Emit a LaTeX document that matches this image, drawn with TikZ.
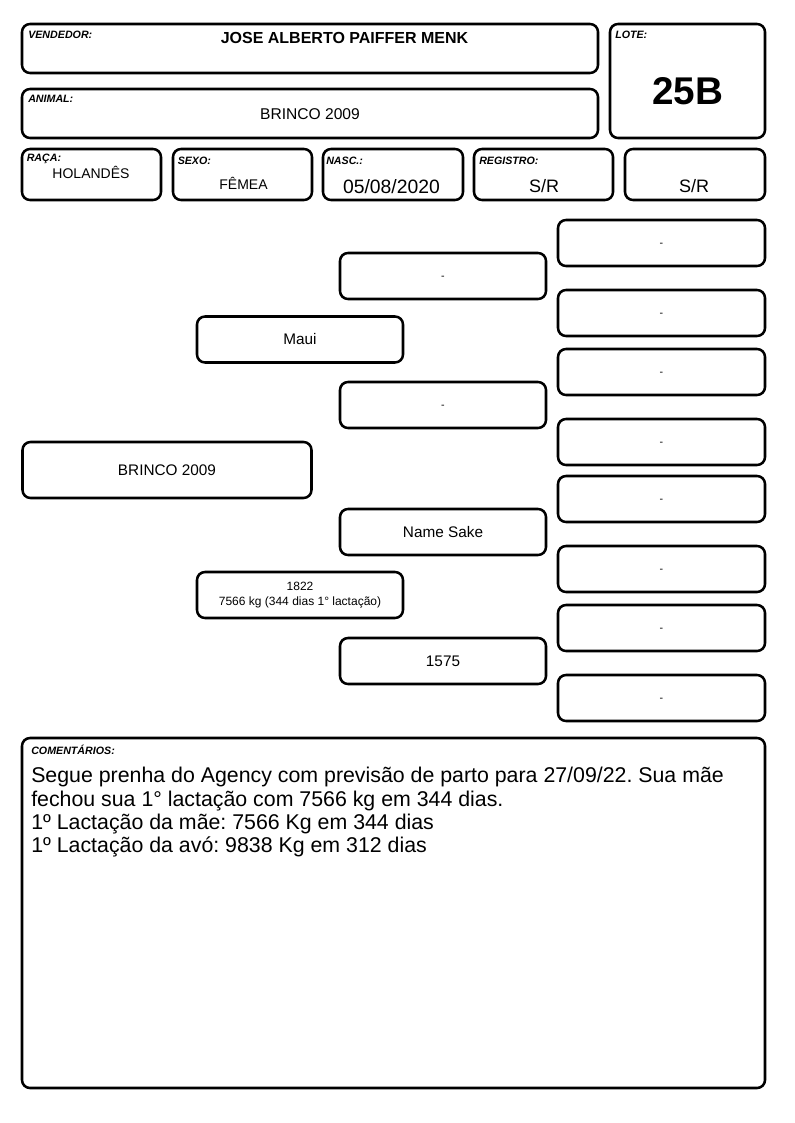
\documentclass[tikz,border=0pt]{standalone}
\usepackage{fontspec}
\setmainfont{Liberation Sans}
\frenchspacing
\newcommand\fonteMedia{\fontsize{11.5}{13.8}\selectfont}
\newcommand\fontePequena{\fontsize{9}{10.8}\selectfont}

\begin{document}
\begin{tikzpicture}[x=0.75pt, y=-0.75pt,
    caixa/.style 2 args={draw, rounded corners=6pt, line width=1.9pt, inner sep=0pt,
      minimum width=#1*0.75pt, minimum height=#2*0.75pt},
    vazio/.style={font=\fontsize{8}{9.6}\selectfont, text height=0.72em, text depth=0.2em},
    rotulo/.style={anchor=base west, inner sep=0pt, font=\fontsize{8}{9.6}\selectfont\bfseries\itshape},
    valor/.style={anchor=base, inner sep=0pt}]

  \useasboundingbox (0,0) rectangle (794,1123);

  % cabecalho
  \node[caixa={576}{49}] (vendedor) at (310,48.5) {};
  \node[caixa={576}{49}] (animal) at (310,113.5) {};
  \node[caixa={155}{114}] (lote) at (687.5,81) {};
  \node[caixa={139}{51}] (raca) at (91.5,174.5) {};
  \node[caixa={139}{51}] (sexo) at (242.5,174.5) {};
  \node[caixa={140}{51}] (nasc) at (393,174.5) {};
  \node[caixa={139}{51}] (registro) at (543.5,174.5) {};
  \node[caixa={140}{51}] (extra) at (695,174.5) {};

  \node[rotulo] (tvendedor) at (28,39) {VENDEDOR:};
  \node[rotulo] (tanimal) at (28,102.5) {ANIMAL:};
  \node[rotulo] (tlote) at (615,39) {LOTE:};
  \node[rotulo] (traca) at (26.5,162) {RAÇA:};
  \node[rotulo] (tsexo) at (177.5,165) {SEXO:};
  \node[rotulo] (tnasc) at (326,165) {NASC.:};
  \node[rotulo] (tregistro) at (479,165) {REGISTRO:};

  \node[valor, font=\fontsize{12}{14}\selectfont\bfseries] (nomevendedor) at (344.5,43.3) {JOSE ALBERTO PAIFFER MENK};
  \node[valor, font=\fontsize{11.7}{14}\selectfont] (nomeanimal) at (310,119.3) {BRINCO 2009};
  \node[valor, font=\fontsize{29}{34}\selectfont\bfseries] (numlote) at (687.5,105) {25B};
  \node[valor, font=\fontsize{10.5}{12.6}\selectfont] (vraca) at (91,178.3) {HOLANDÊS};
  \node[valor, font=\fontsize{10.5}{12.6}\selectfont] (vsexo) at (243.5,189.3) {FÊMEA};
  \node[valor, font=\fontsize{14.5}{17}\selectfont] (vnasc) at (391.5,193.3) {05/08/2020};
  \node[valor, font=\fontsize{13.5}{16}\selectfont] (vregistro) at (544,192.7) {S/R};
  \node[valor, font=\fontsize{13.5}{16}\selectfont] (vextra) at (694,192.7) {S/R};

  % genealogia
  \node[caixa={289}{56}, font=\fonteMedia] (bezerra) at (167,470) {BRINCO 2009};
  \node[caixa={206}{46}, font=\fonteMedia] (pai) at (300,339.5) {Maui};
  \node[caixa={206}{46}, font=\fontePequena, align=center] (mae) at (300,595)
    {1822\\7566 kg (344 dias 1° lactação)};
  \node[caixa={206}{46}, vazio] (avopp) at (443,276) {-};
  \node[caixa={206}{46}, vazio] (avopm) at (443,405) {-};
  \node[caixa={206}{46}, font=\fonteMedia] (avomp) at (443,532) {Name Sake};
  \node[caixa={206}{46}, font=\fonteMedia] (avomm) at (443,661) {1575};
  \foreach \y [count=\i] in {243,313,372,442,499,569,628,698}
    \node[caixa={207}{46}, vazio] (bisavo\i) at (661.5,\y) {-};

  % comentarios
  \node[caixa={743}{350}] (comentarios) at (393.5,913) {};
  \node[rotulo] (tcomentarios) at (31,754) {COMENTÁRIOS:};
  \node[anchor=north west, inner sep=0pt, align=left, font=\fontsize{16}{17.5}\selectfont] (textocom) at (31,767)
    {Segue prenha do Agency com previsão de parto para 27/09/22. Sua mãe\\
     fechou sua 1° lactação com 7566 kg em 344 dias.\\
     1º Lactação da mãe: 7566 Kg em 344 dias\\
     1º Lactação da avó: 9838 Kg em 312 dias};

\end{tikzpicture}
\end{document}
